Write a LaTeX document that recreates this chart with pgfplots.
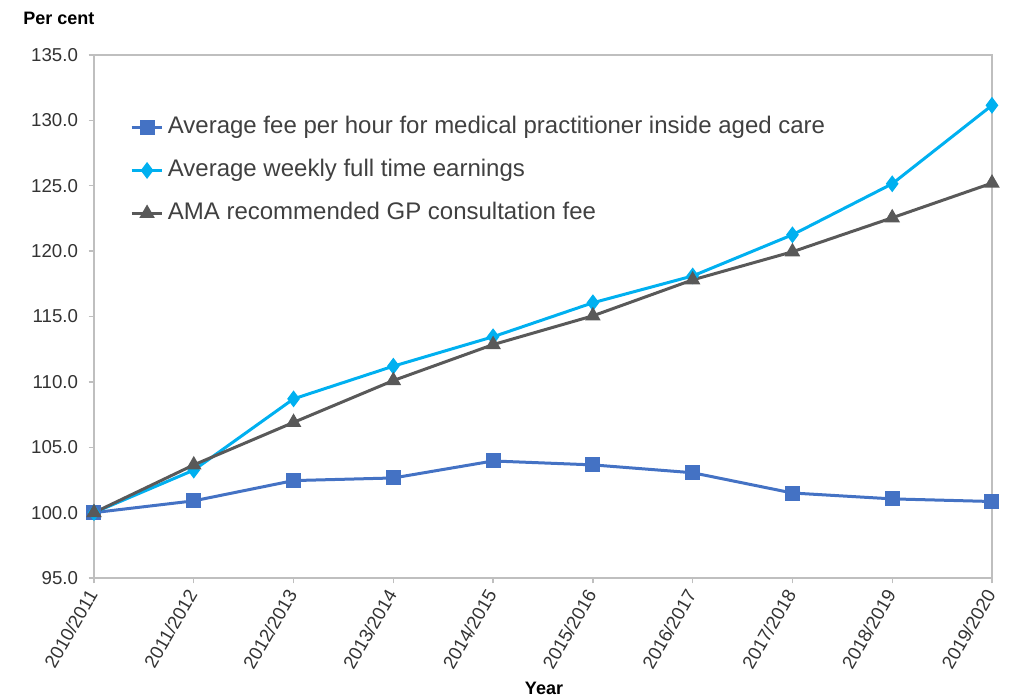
\documentclass[border=0pt]{standalone}
\usepackage{pgfplots}
\pgfplotsset{compat=1.18}
\usepackage{fontspec}
\setmainfont{Liberation Sans}
\definecolor{feeblue}{HTML}{4472C4}
\definecolor{earncyan}{HTML}{00B0F0}
\definecolor{amagray}{HTML}{595959}
\definecolor{axgray}{HTML}{BFBFBF}
\definecolor{ticktxt}{HTML}{333333}
\definecolor{legtxt}{HTML}{404040}
\begin{document}
\begin{tikzpicture}[x=1pt,y=1pt]
\path[use as bounding box] (-70.5,-90) rectangle (692.25,433.5);
\begin{axis}[
  at={(0,0)}, anchor=south west,
  scale only axis, width=673.5pt, height=392.25pt,
  xmin=0, xmax=9, ymin=95, ymax=135,
  xtick={0,...,9},
  xticklabels={2010/2011,2011/2012,2012/2013,2013/2014,2014/2015,2015/2016,2016/2017,2017/2018,2018/2019,2019/2020},
  ytick={95,100,...,135},
  /pgf/number format/assume math mode=true,
  yticklabel style={/pgf/number format/.cd, fixed, fixed zerofill, precision=1},
  ticklabel style={font=\fontsize{14}{16}\selectfont, text=ticktxt},
  xticklabel style={rotate=60, anchor=east, inner sep=2pt},
  xticklabel shift=4pt,
  yticklabel shift=4.5pt,
  axis line style={axgray, line width=1pt},
  tick style={axgray, line width=1pt},
  tick align=outside, major tick length=4pt,
  xtick pos=lower, ytick pos=left,
  legend cell align=left,
  legend style={draw=none, fill=none, at={(0.0356,0.89)}, anchor=north west,
    font=\fontsize{18}{21}\selectfont, text=legtxt,
    nodes={inner sep=0pt, text height=13.5pt, text depth=4.5pt},
    row sep=14.25pt,
    /tikz/every odd column/.style={column sep=3pt}},
  legend image code/.code={\draw[mark repeat=2, mark phase=2, #1] plot coordinates {(0pt,0pt) (11.5pt,0pt) (23pt,0pt)};},
]
\addplot[feeblue, line width=2.25pt, mark=square*, mark size=4.5pt, mark options={solid}]
  coordinates {(0,100.0) (1,100.9) (2,102.45) (3,102.65) (4,103.95) (5,103.65) (6,103.05) (7,101.5) (8,101.05) (9,100.85)};
\addlegendentry{Average fee per hour for medical practitioner inside aged care}
\addplot[earncyan, line width=2.25pt, mark=diamond*, mark size=4.5pt, mark options={solid}]
  coordinates {(0,100.0) (1,103.25) (2,108.7) (3,111.2) (4,113.45) (5,116.05) (6,118.1) (7,121.25) (8,125.15) (9,131.15)};
\addlegendentry{Average weekly full time earnings}
\addplot[amagray, line width=2.25pt, mark=triangle*, mark size=4.5pt, mark options={solid}]
  coordinates {(0,100.0) (1,103.65) (2,106.9) (3,110.1) (4,112.85) (5,115.05) (6,117.8) (7,119.95) (8,122.55) (9,125.2)};
\addlegendentry{AMA recommended GP consultation fee}
\end{axis}
\node[anchor=west, inner sep=0pt, font=\bfseries\fontsize{13.5}{16}\selectfont] at (-53.25,420) {Per cent};
\node[inner sep=0pt, font=\bfseries\fontsize{13.5}{16}\selectfont] at (337.5,-82.5) {Year};
\end{tikzpicture}
\end{document}
